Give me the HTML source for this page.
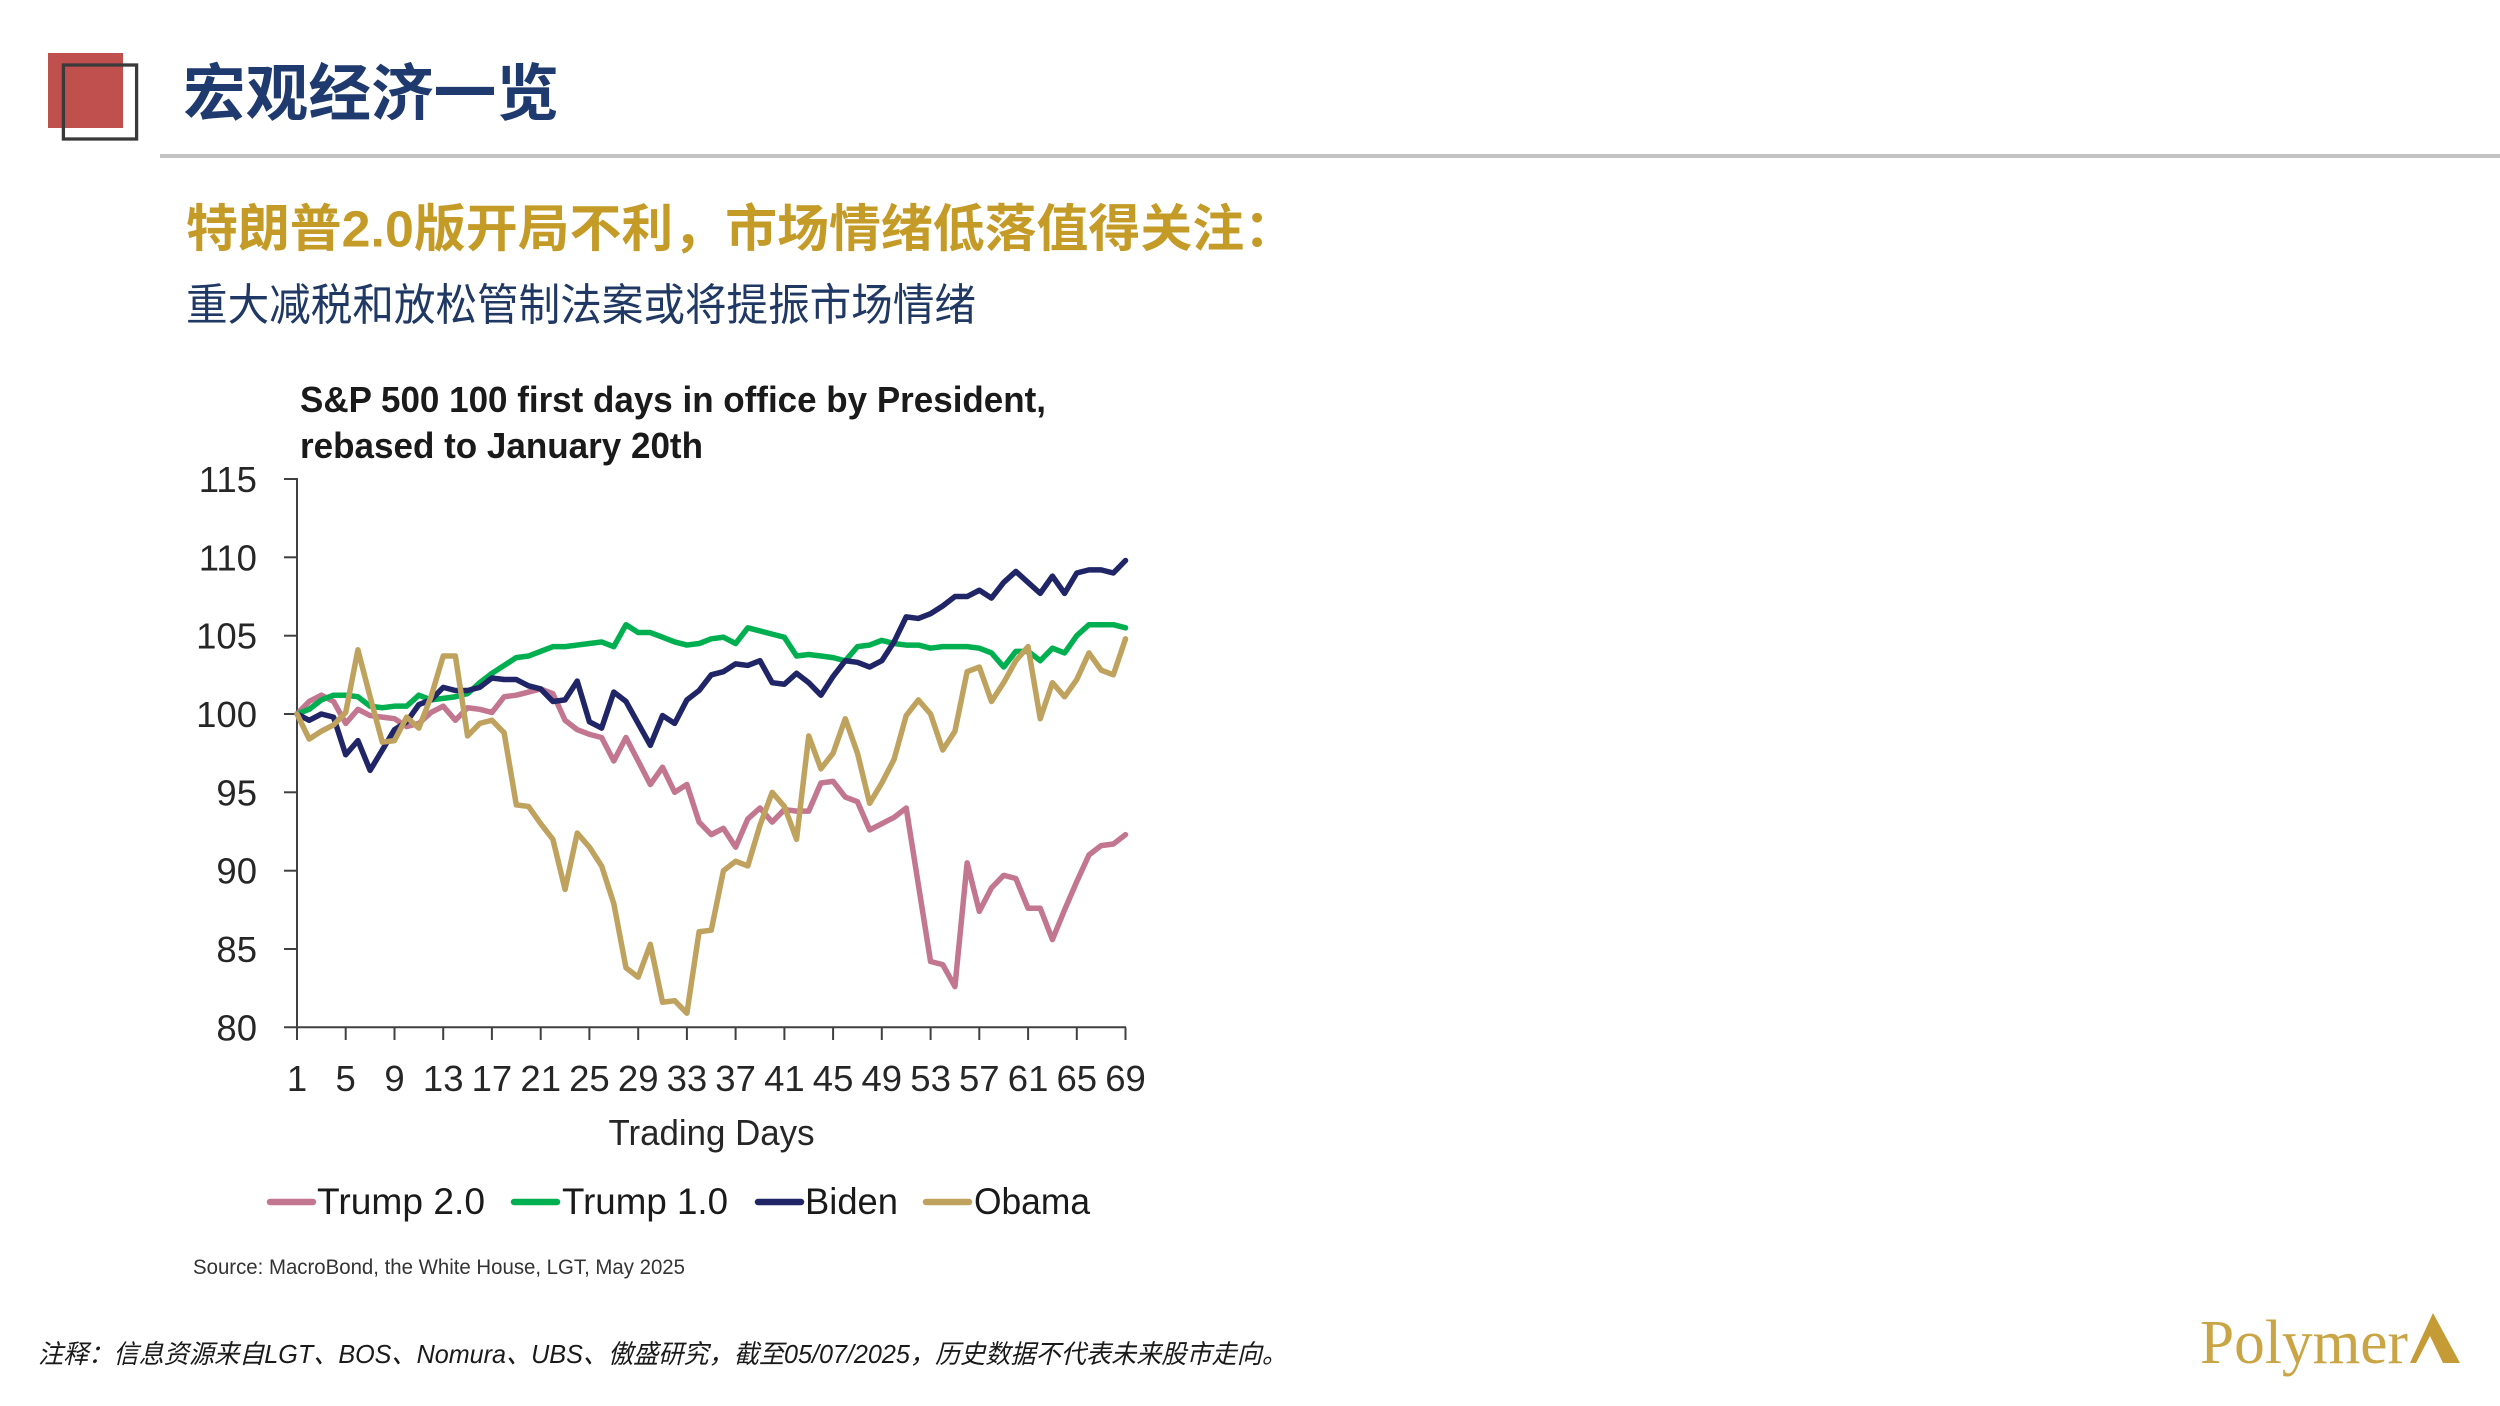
<!DOCTYPE html>
<html>
<head>
<meta charset="utf-8">
<style>
  html,body{margin:0;padding:0;background:#ffffff;}
  body{width:2500px;height:1406px;overflow:hidden;}
  svg{display:block;}
  .lat{font-family:"Liberation Sans","Noto Sans CJK SC",sans-serif;}
  .cjk{font-family:"Liberation Sans","Noto Sans CJK SC",sans-serif;}
</style>
</head>
<body>
<svg width="2500" height="1406" viewBox="0 0 2500 1406" xmlns="http://www.w3.org/2000/svg">
  <rect x="0" y="0" width="2500" height="1406" fill="#ffffff"/>

  <!-- header icon -->
  <rect x="48" y="53" width="75" height="75" fill="#C0504D"/>
  <rect x="63.4" y="65" width="73.2" height="74" fill="none" stroke="#3A3A3A" stroke-width="3.3"/>

  <!-- header title -->
  <text class="cjk" x="183" y="115" font-size="62" font-weight="700" fill="#1E3A6E" textLength="376" lengthAdjust="spacingAndGlyphs">宏观经济一览</text>

  <!-- header rule -->
  <rect x="160" y="154" width="2340" height="4" fill="#C3C3C3"/>

  <!-- subtitles -->
  <text class="cjk" x="186" y="246.5" font-size="51" font-weight="700" fill="#C59B27" textLength="1110" lengthAdjust="spacingAndGlyphs">特朗普2.0版开局不利，市场情绪低落值得关注：</text>
  <text class="cjk" x="186" y="320" font-size="44" fill="#1F3864" textLength="790" lengthAdjust="spacingAndGlyphs">重大减税和放松管制法案或将提振市场情绪</text>

  <!-- chart title -->
  <text class="lat" x="300" y="412" font-size="36" font-weight="700" fill="#1a1a1a" textLength="746" lengthAdjust="spacingAndGlyphs">S&amp;P 500 100 first days in office by President,</text>
  <text class="lat" x="300" y="458" font-size="36" font-weight="700" fill="#1a1a1a" textLength="403" lengthAdjust="spacingAndGlyphs">rebased to January 20th</text>

  <!-- axes -->
  <g stroke="#404040" stroke-width="2" fill="none">
    <line x1="297" y1="478" x2="297" y2="1027.3"/>
    <line x1="284" y1="1027.3" x2="1126" y2="1027.3"/>
    <line x1="284" y1="479" x2="297" y2="479"/>
    <line x1="284" y1="557.3" x2="297" y2="557.3"/>
    <line x1="284" y1="635.7" x2="297" y2="635.7"/>
    <line x1="284" y1="714" x2="297" y2="714"/>
    <line x1="284" y1="792.3" x2="297" y2="792.3"/>
    <line x1="284" y1="870.7" x2="297" y2="870.7"/>
    <line x1="284" y1="949" x2="297" y2="949"/>
    <line x1="297" y1="1027.3" x2="297" y2="1040"/>
    <line x1="345.7" y1="1027.3" x2="345.7" y2="1040"/>
    <line x1="394.5" y1="1027.3" x2="394.5" y2="1040"/>
    <line x1="443.2" y1="1027.3" x2="443.2" y2="1040"/>
    <line x1="491.9" y1="1027.3" x2="491.9" y2="1040"/>
    <line x1="540.7" y1="1027.3" x2="540.7" y2="1040"/>
    <line x1="589.4" y1="1027.3" x2="589.4" y2="1040"/>
    <line x1="638.2" y1="1027.3" x2="638.2" y2="1040"/>
    <line x1="686.9" y1="1027.3" x2="686.9" y2="1040"/>
    <line x1="735.6" y1="1027.3" x2="735.6" y2="1040"/>
    <line x1="784.4" y1="1027.3" x2="784.4" y2="1040"/>
    <line x1="833.1" y1="1027.3" x2="833.1" y2="1040"/>
    <line x1="881.8" y1="1027.3" x2="881.8" y2="1040"/>
    <line x1="930.6" y1="1027.3" x2="930.6" y2="1040"/>
    <line x1="979.3" y1="1027.3" x2="979.3" y2="1040"/>
    <line x1="1028.1" y1="1027.3" x2="1028.1" y2="1040"/>
    <line x1="1076.8" y1="1027.3" x2="1076.8" y2="1040"/>
    <line x1="1125.5" y1="1027.3" x2="1125.5" y2="1040"/>
  </g>

  <!-- y labels -->
  <g class="lat" font-size="36.5" fill="#262626" text-anchor="end">
    <text x="257" y="492">115</text>
    <text x="257" y="570.3">110</text>
    <text x="257" y="648.7">105</text>
    <text x="257" y="727">100</text>
    <text x="257" y="805.3">95</text>
    <text x="257" y="883.7">90</text>
    <text x="257" y="962">85</text>
    <text x="257" y="1040.3">80</text>
  </g>

  <!-- x labels -->
  <g class="lat" font-size="36.5" fill="#262626" text-anchor="middle">
    <text x="297" y="1091">1</text>
    <text x="345.7" y="1091">5</text>
    <text x="394.5" y="1091">9</text>
    <text x="443.2" y="1091">13</text>
    <text x="491.9" y="1091">17</text>
    <text x="540.7" y="1091">21</text>
    <text x="589.4" y="1091">25</text>
    <text x="638.2" y="1091">29</text>
    <text x="686.9" y="1091">33</text>
    <text x="735.6" y="1091">37</text>
    <text x="784.4" y="1091">41</text>
    <text x="833.1" y="1091">45</text>
    <text x="881.8" y="1091">49</text>
    <text x="930.6" y="1091">53</text>
    <text x="979.3" y="1091">57</text>
    <text x="1028.1" y="1091">61</text>
    <text x="1076.8" y="1091">65</text>
    <text x="1125.5" y="1091">69</text>
  </g>

  <text class="lat" x="711.5" y="1145" font-size="36" fill="#262626" text-anchor="middle" textLength="206" lengthAdjust="spacingAndGlyphs">Trading Days</text>

  <!-- series -->
  <g transform="translate(284.816,2280.5) scale(12.184,-15.665)" fill="none" stroke-linejoin="round" stroke-linecap="round">
    <polyline vector-effect="non-scaling-stroke" stroke="#C27690" stroke-width="5.5" points="
1,100.0 2,100.8 3,101.2 4,100.8 5,99.4 6,100.3 7,99.9 8,99.8 9,99.7 10,99.2
11,99.4 12,100.1 13,100.5 14,99.6 15,100.4 16,100.3 17,100.1 18,101.1 19,101.2 20,101.4
21,101.6 22,101.3 23,99.6 24,99.0 25,98.7 26,98.5 27,97.0 28,98.5 29,97.0 30,95.5
31,96.6 32,95.0 33,95.5 34,93.1 35,92.3 36,92.7 37,91.5 38,93.3 39,94.0 40,93.1
41,93.9 42,93.8 43,93.8 44,95.6 45,95.7 46,94.7 47,94.4 48,92.6 49,93.0 50,93.4
51,94.0 52,89.1 53,84.2 54,84.0 55,82.6 56,90.5 57,87.4 58,88.9 59,89.7 60,89.5
61,87.6 62,87.6 63,85.6 64,87.5 65,89.3 66,91.0 67,91.6 68,91.7 69,92.3"/>
    <polyline vector-effect="non-scaling-stroke" stroke="#00B050" stroke-width="5.5" points="
1,100.0 2,100.3 3,100.9 4,101.2 5,101.2 6,101.1 7,100.5 8,100.4 9,100.5 10,100.5
11,101.2 12,100.9 13,101.0 14,101.1 15,101.3 16,102.0 17,102.6 18,103.1 19,103.6 20,103.7
21,104.0 22,104.3 23,104.3 24,104.4 25,104.5 26,104.6 27,104.3 28,105.7 29,105.2 30,105.2
31,104.9 32,104.6 33,104.4 34,104.5 35,104.8 36,104.9 37,104.5 38,105.5 39,105.3 40,105.1
41,104.9 42,103.7 43,103.8 44,103.7 45,103.6 46,103.4 47,104.3 48,104.4 49,104.7 50,104.5
51,104.4 52,104.4 53,104.2 54,104.3 55,104.3 56,104.3 57,104.2 58,103.9 59,103.0 60,104.0
61,104.0 62,103.4 63,104.2 64,103.9 65,105.0 66,105.7 67,105.7 68,105.7 69,105.5"/>
    <polyline vector-effect="non-scaling-stroke" stroke="#1F2566" stroke-width="5.5" points="
1,100.0 2,99.6 3,100.0 4,99.8 5,97.4 6,98.3 7,96.4 8,97.7 9,99.0 10,99.5
11,100.6 12,100.9 13,101.7 14,101.5 15,101.5 16,101.7 17,102.3 18,102.2 19,102.2 20,101.8
21,101.6 22,100.8 23,100.9 24,102.1 25,99.5 26,99.1 27,101.4 28,100.8 29,99.4 30,98.0
31,99.9 32,99.4 33,100.9 34,101.5 35,102.5 36,102.7 37,103.2 38,103.1 39,103.4 40,102.0
41,101.9 42,102.6 43,102.0 44,101.2 45,102.4 46,103.4 47,103.3 48,103.0 49,103.4 50,104.6
51,106.2 52,106.1 53,106.4 54,106.9 55,107.5 56,107.5 57,107.9 58,107.4 59,108.4 60,109.1
61,108.4 62,107.7 63,108.8 64,107.7 65,109.0 66,109.2 67,109.2 68,109.0 69,109.8"/>
    <polyline vector-effect="non-scaling-stroke" stroke="#BFA25E" stroke-width="5.5" points="
1,100.0 2,98.4 3,98.9 4,99.3 5,100.1 6,104.1 7,101.1 8,98.2 9,98.3 10,99.8
11,99.1 12,101.1 13,103.7 14,103.7 15,98.6 16,99.4 17,99.6 18,98.8 19,94.2 20,94.1
21,93.0 22,92.0 23,88.8 24,92.4 25,91.5 26,90.3 27,87.9 28,83.8 29,83.2 30,85.3
31,81.6 32,81.7 33,80.9 34,86.1 35,86.2 36,90.0 37,90.6 38,90.3 39,92.9 40,95.0
41,94.1 42,92.0 43,98.6 44,96.5 45,97.5 46,99.7 47,97.5 48,94.3 49,95.6 50,97.1
51,99.9 52,100.9 53,100.0 54,97.7 55,98.9 56,102.7 57,103.0 58,100.8 59,102.0 60,103.4
61,104.3 62,99.7 63,102.0 64,101.1 65,102.2 66,103.9 67,102.8 68,102.5 69,104.8"/>
  </g>

  <!-- legend -->
  <g stroke-width="6.5" stroke-linecap="round">
    <line x1="270" y1="1202" x2="313" y2="1202" stroke="#C27690"/>
    <line x1="514" y1="1202" x2="557" y2="1202" stroke="#00B050"/>
    <line x1="758" y1="1202" x2="801" y2="1202" stroke="#1F2566"/>
    <line x1="926" y1="1202" x2="969" y2="1202" stroke="#BFA25E"/>
  </g>
  <g class="lat" font-size="37" fill="#1a1a1a">
    <text x="317" y="1214" textLength="168" lengthAdjust="spacingAndGlyphs">Trump 2.0</text>
    <text x="562" y="1214" textLength="166" lengthAdjust="spacingAndGlyphs">Trump 1.0</text>
    <text x="805" y="1214" textLength="93" lengthAdjust="spacingAndGlyphs">Biden</text>
    <text x="974" y="1214" textLength="116" lengthAdjust="spacingAndGlyphs">Obama</text>
  </g>

  <!-- source -->
  <text class="lat" x="193" y="1274" font-size="21" fill="#333333" textLength="492" lengthAdjust="spacingAndGlyphs">Source: MacroBond, the White House, LGT, May 2025</text>

  <!-- footnote -->
  <text class="cjk" x="38" y="1363" font-size="26" font-style="italic" fill="#1a1a1a" textLength="1249" lengthAdjust="spacingAndGlyphs">注释：信息资源来自LGT、BOS、Nomura、UBS、傲盛研究，截至05/07/2025，历史数据不代表未来股市走向。</text>

  <!-- logo -->
  <text x="2200" y="1363" font-family="'Liberation Serif', serif" font-size="62" fill="#C9A545" textLength="208" lengthAdjust="spacingAndGlyphs">Polymer</text>
  <polygon points="2410,1363 2433,1313 2460,1363 2443,1363 2430,1336 2416,1363" fill="#C49B35"/>
</svg>
</body>
</html>
